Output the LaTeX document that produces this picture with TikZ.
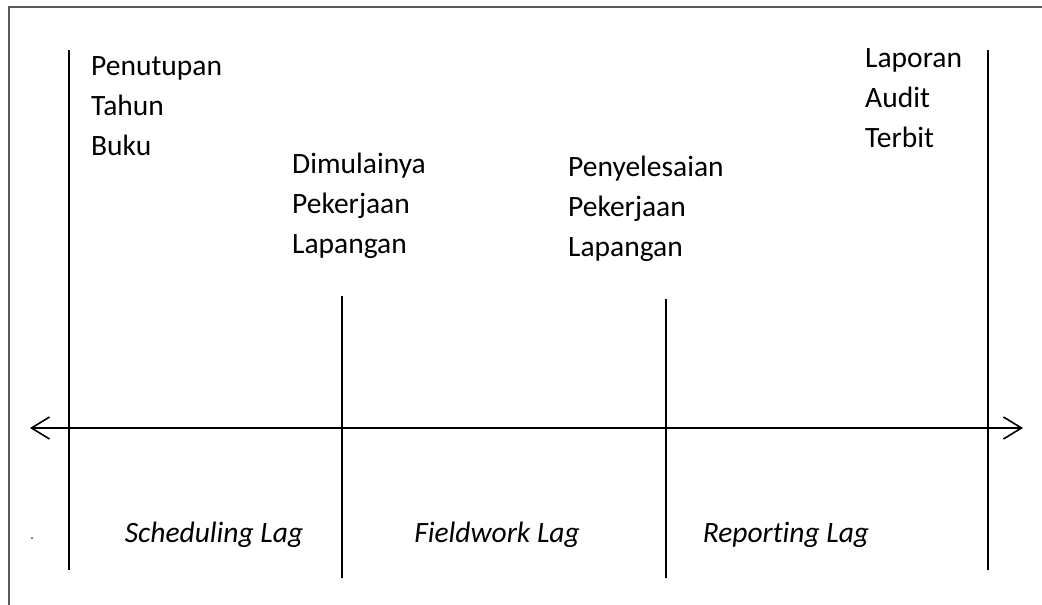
\documentclass[tikz,border=0pt]{standalone}
\usepackage{fontspec}
\setmainfont{Carlito}[Ligatures=NoCommon]
\usepackage{tikz}
\usetikzlibrary{arrows.meta,positioning}

\tikzset{
    milestone/.style={anchor=north west, inner sep=0pt, align=left,
        font=\fontsize{29.5}{40}\selectfont},
    lagtext/.style={anchor=base, inner sep=0pt,
        font=\fontsize{29.5}{36}\selectfont\itshape},
    tick/.style={line width=1.8pt},
    timeline/.style={line width=1.6pt,
        {Straight Barb[length=18pt,width=22pt,line width=1.6pt]}-{Straight Barb[length=18pt,width=22pt,line width=1.6pt]}}
}

\begin{document}
\begin{tikzpicture}[x=1pt,y=-1pt]

\useasboundingbox (0,0) rectangle (1042,605);

% frame
\draw[black!65,line width=1.3pt] (1042,7) -- (9,7) -- (9,605);

% ticks on the time line
\coordinate (t1top) at (69,50);
\coordinate (t1bot) at (69,570);
\coordinate (t2top) at (342,296);
\coordinate (t2bot) at (342,578);
\coordinate (t3top) at (666,299);
\coordinate (t3bot) at (666,578);
\coordinate (t4top) at (988,50);
\coordinate (t4bot) at (988,570);

\draw[tick] (t1top) -- (t1bot);
\draw[tick] (t2top) -- (t2bot);
\draw[tick] (t3top) -- (t3bot);
\draw[tick] (t4top) -- (t4bot);

\coordinate (axL) at (30,428);
\coordinate (axR) at (1023,428);
\draw[timeline] (axL) -- (axR);

% milestones
\node[milestone] (tutup) at (91,56) {Penutupan\\Tahun\\Buku};
\node[milestone] (mulai) at (292,153) {Dimulainya\\Pekerjaan\\Lapangan};
\node[milestone] (selesai) at (568,156) {Penyelesaian\\Pekerjaan\\Lapangan};
\node[milestone] (laporan) at (865,48) {Laporan\\Audit\\Terbit};

% lags
\node[lagtext] (sched) at (214,542) {Scheduling Lag};
\node[lagtext] (field) at (497,542) {Fieldwork Lag};
\node[lagtext] (report) at (786,542) {Reporting Lag};

\fill (32,538) circle (0.8);

\end{tikzpicture}
\end{document}
